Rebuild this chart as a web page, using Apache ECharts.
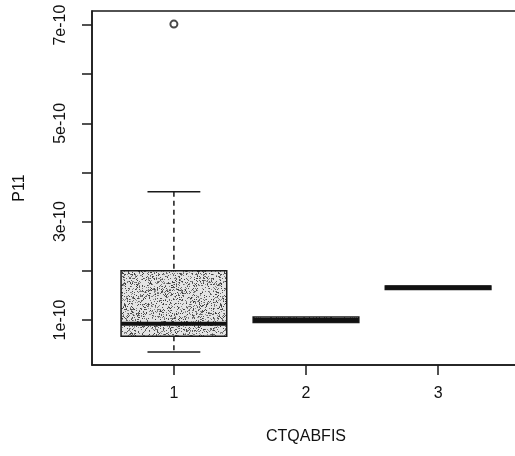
<!DOCTYPE html>
<html>
<head>
<meta charset="utf-8">
<script src="https://cdn.jsdelivr.net/npm/echarts@6/dist/echarts.min.js"></script>
<style>html,body{margin:0;padding:0;background:#fff}#c{width:515px;height:456px}</style>
</head>
<body>
<div id="c"></div>
<script>
// ---- data ----
var categories = [1, 2, 3];
var boxMin    = [0.35e-10, 0.95e-10, 1.62e-10];
var boxQ1     = [0.67e-10, 0.95e-10, 1.62e-10];
var boxMedian = [0.92e-10, 1.00e-10, 1.66e-10];
var boxQ3     = [2.00e-10, 1.06e-10, 1.69e-10];
var boxMax    = [3.61e-10, 1.06e-10, 1.69e-10];
var outliers  = [[1, 7.02e-10]];
var yTickValues  = [1e-10, 2e-10, 3e-10, 4e-10, 5e-10, 6e-10, 7e-10];
var yLabelValues = [1e-10, 3e-10, 5e-10, 7e-10];
var yLabelTexts  = ['1e-10', '3e-10', '5e-10', '7e-10'];
var xLabelTexts  = ['1', '2', '3'];

var boxData = categories.map(function (c, i) {
  return [c, boxMin[i], boxQ1[i], boxMedian[i], boxQ3[i], boxMax[i]];
});

// stipple texture for the first box (style only)
function makeStipple() {
  var cv = document.createElement('canvas');
  cv.width = 96; cv.height = 96;
  var ctx = cv.getContext('2d');
  ctx.fillStyle = '#e4e4e4';
  ctx.fillRect(0, 0, 96, 96);
  var s = 12345;
  function r() { s = (s * 1103515245 + 12345) & 0x7fffffff; return s / 0x7fffffff; }
  for (var k = 0; k < 2800; k++) {
    var x = Math.floor(r() * 96), y = Math.floor(r() * 96);
    var g = Math.floor(50 + r() * 100);
    ctx.fillStyle = 'rgb(' + g + ',' + g + ',' + g + ')';
    ctx.fillRect(x, y, 1, 1);
  }
  return cv;
}
var stipple = makeStipple();

var FONT = "'Liberation Sans', Arial, Helvetica, sans-serif";
var TXT = '#111';
var chart = echarts.init(document.getElementById('c'), null, {renderer: 'canvas'});

chart.setOption({
  animation: false,
  backgroundColor: '#fff',
  grid: {left: 92, top: 11, width: 428, height: 354, show: true, outerBoundsMode: 'none',
         containLabel: false,
         borderColor: '#1a1a1a', borderWidth: 1.5, backgroundColor: 'transparent'},
  xAxis: {
    type: 'value', min: 0.38, max: 3.62,
    name: 'CTQABFIS', nameLocation: 'middle', nameGap: 64,
    nameTextStyle: {fontFamily: FONT, fontSize: 16, color: TXT},
    splitLine: {show: false},
    axisLine: {show: true, onZero: false, lineStyle: {color: '#1a1a1a', width: 1.5}},
    axisTick: {show: true, length: 10, lineStyle: {color: '#1a1a1a', width: 1.5}, customValues: categories},
    axisLabel: {show: true, margin: 21, fontFamily: FONT, fontSize: 16, color: TXT,
                customValues: categories,
                formatter: function (v) { return xLabelTexts[categories.indexOf(Math.round(v))]; }}
  },
  yAxis: {
    type: 'value', min: 0.083e-10, max: 7.287e-10,
    name: 'P11', nameLocation: 'middle', nameGap: 64, nameRotate: 90,
    nameTextStyle: {fontFamily: FONT, fontSize: 16, color: TXT},
    splitLine: {show: false},
    axisLine: {show: true, onZero: false, lineStyle: {color: '#1a1a1a', width: 1.5}},
    axisTick: {show: true, length: 10, lineStyle: {color: '#1a1a1a', width: 1.5}, customValues: yTickValues},
    axisLabel: {show: true, rotate: 90, margin: 23, align: 'center', verticalAlign: 'bottom',
                fontFamily: FONT, fontSize: 16, color: TXT,
                customValues: yLabelValues,
                formatter: function (v) {
                  var best = 0, d = Infinity;
                  yLabelValues.forEach(function (lv, i) { if (Math.abs(lv - v) < d) { d = Math.abs(lv - v); best = i; } });
                  return yLabelTexts[best];
                }}
  },
  series: [
    {
      type: 'custom',
      data: boxData,
      clip: false,
      renderItem: function (params, api) {
        var x = api.value(0);
        var pMin = api.coord([x, api.value(1)]);
        var pQ1 = api.coord([x, api.value(2)]);
        var pMed = api.coord([x, api.value(3)]);
        var pQ3 = api.coord([x, api.value(4)]);
        var pMax = api.coord([x, api.value(5)]);
        var half = (api.coord([x + 0.4, 0])[0] - api.coord([x, 0])[0]);
        var cap = half / 2;
        var cx = pQ1[0];
        var children = [];
        var line = {stroke: '#1a1a1a', lineWidth: 1.5};
        var dashed = {stroke: '#1a1a1a', lineWidth: 1.5, lineDash: [5, 4]};
        if (pMax[1] < pQ3[1] - 0.5) {
          children.push({type: 'line', shape: {x1: cx, y1: pMax[1], x2: cx, y2: pQ3[1]}, style: dashed});
          children.push({type: 'line', shape: {x1: cx - cap, y1: pMax[1], x2: cx + cap, y2: pMax[1]}, style: line});
        }
        if (pMin[1] > pQ1[1] + 0.5) {
          children.push({type: 'line', shape: {x1: cx, y1: pQ1[1], x2: cx, y2: pMin[1]}, style: dashed});
          children.push({type: 'line', shape: {x1: cx - cap, y1: pMin[1], x2: cx + cap, y2: pMin[1]}, style: line});
        }
        children.push({type: 'rect',
          shape: {x: cx - half, y: pQ3[1], width: 2 * half, height: pQ1[1] - pQ3[1]},
          style: {fill: {image: stipple, repeat: 'repeat'}, stroke: '#1a1a1a', lineWidth: 1.5}});
        children.push({type: 'line', shape: {x1: cx - half, y1: pMed[1], x2: cx + half, y2: pMed[1]},
          style: {stroke: '#111', lineWidth: 4}});
        return {type: 'group', children: children};
      }
    },
    {
      type: 'scatter',
      data: outliers,
      symbol: 'emptyCircle',
      symbolSize: 7,
      itemStyle: {color: '#1a1a1a', borderColor: '#1a1a1a', borderWidth: 1.5}
    }
  ]
});
</script>
</body>
</html>
